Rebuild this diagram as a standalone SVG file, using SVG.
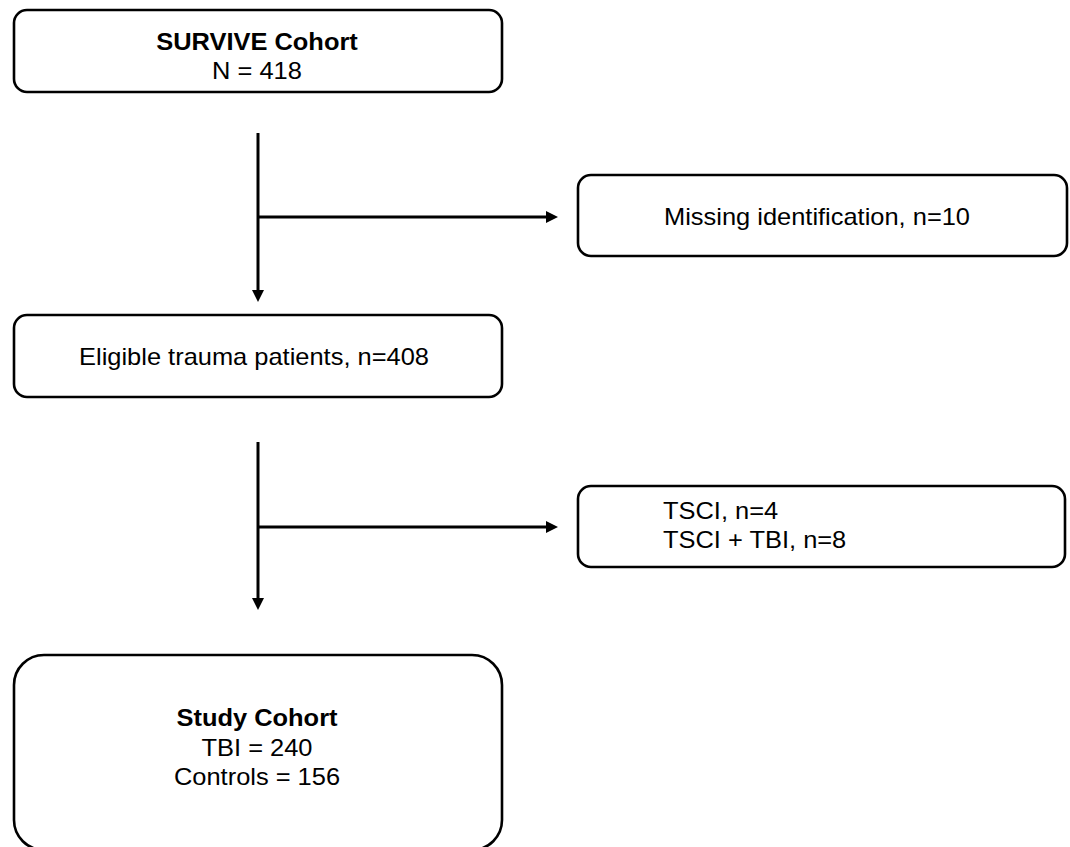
<svg xmlns="http://www.w3.org/2000/svg" width="1070" height="847" viewBox="0 0 1070 847">
  <style>
    .box { fill: #ffffff; stroke: #000000; stroke-width: 2.6; }
    .conn { stroke: #000000; stroke-width: 3; fill: none; }
    .t { font-family: "Liberation Sans", Arial, Helvetica, sans-serif; font-size: 24px; fill: #000000; }
    .b { font-weight: bold; }
    .c { text-anchor: middle; }
  </style>
  <defs>
    <marker id="arrow" viewBox="0 0 12 12" refX="3" refY="6" markerWidth="12" markerHeight="12" markerUnits="userSpaceOnUse" orient="auto">
      <path d="M0,0 L12,6 L0,12 Z" fill="#000000"/>
    </marker>
  </defs>
  <rect width="1070" height="847" fill="#ffffff"/>

  <g id="connectors">
    <line class="conn" x1="258" y1="133" x2="258" y2="293" marker-end="url(#arrow)"/>
    <line class="conn" x1="258" y1="217" x2="549" y2="217" marker-end="url(#arrow)"/>
    <line class="conn" x1="258" y1="442" x2="258" y2="601" marker-end="url(#arrow)"/>
    <line class="conn" x1="258" y1="527" x2="549" y2="527" marker-end="url(#arrow)"/>
  </g>

  <g id="survive">
    <rect class="box" x="14" y="10" width="488" height="82" rx="13"/>
    <text class="t b c" transform="translate(257,50) scale(1.06,1)">SURVIVE Cohort</text>
    <text class="t c" transform="translate(257,79) scale(1.06,1)">N = 418</text>
  </g>

  <g id="missing">
    <rect class="box" x="578" y="175" width="489" height="81" rx="13"/>
    <text class="t c" transform="translate(817,225) scale(1.06,1)">Missing identification, n=10</text>
  </g>

  <g id="eligible">
    <rect class="box" x="14" y="315" width="488" height="82" rx="13"/>
    <text class="t c" transform="translate(254,365) scale(1.06,1)">Eligible trauma patients, n=408</text>
  </g>

  <g id="tsci">
    <rect class="box" x="578" y="486" width="487" height="81" rx="13"/>
    <text class="t" transform="translate(663,519) scale(1.06,1)">TSCI, n=4</text>
    <text class="t" transform="translate(663,548) scale(1.06,1)">TSCI + TBI, n=8</text>
  </g>

  <g id="study">
    <rect class="box" x="14" y="655" width="488" height="195" rx="30"/>
    <text class="t b c" transform="translate(257,726) scale(1.06,1)">Study Cohort</text>
    <text class="t c" transform="translate(257,756) scale(1.06,1)">TBI = 240</text>
    <text class="t c" transform="translate(257,785) scale(1.06,1)">Controls = 156</text>
  </g>
</svg>
